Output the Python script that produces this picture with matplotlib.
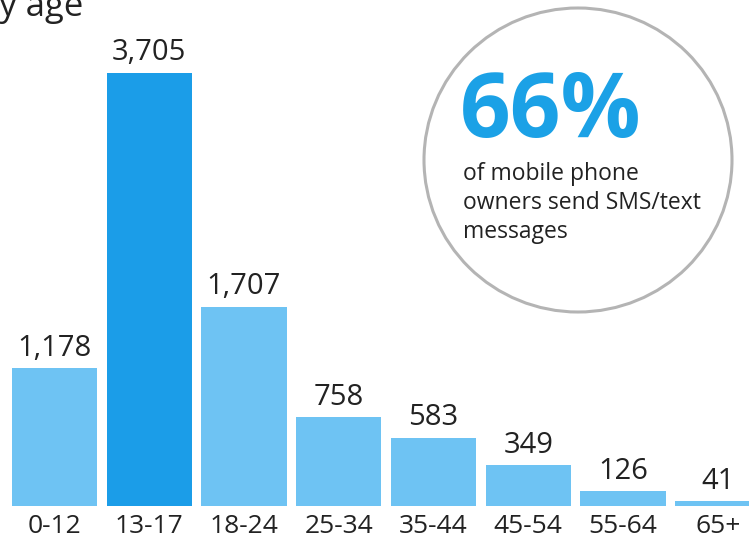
import matplotlib.pyplot as plt
from matplotlib.patches import Ellipse

plt.rcParams['font.family'] = ['Open Sans', 'DejaVu Sans']

age_groups = ['0-12', '13-17', '18-24', '25-34', '35-44', '45-54', '55-64', '65+']
texts_per_month = [1178, 3705, 1707, 758, 583, 349, 126, 41]
highlight = '13-17'
callout_lines = ['of mobile phone', 'owners send SMS/text', 'messages']

light_blue = '#6ec3f3'
dark_blue = '#1b9de8'
text_color = '#222222'

W, H = 749, 547
fig = plt.figure(figsize=(W / 100, H / 100), dpi=100)

# axes spans the whole width so the last bar runs off the right edge
ax = fig.add_axes([0, 41 / H, 1, 506 / H])
colors = [dark_blue if g == highlight else light_blue for g in age_groups]
x = range(len(age_groups))
bars = ax.bar(x, texts_per_month, width=0.9, color=colors)
ax.set_xlim(-0.575, 7.33)
ax.set_ylim(0, 4330)

for rect, v in zip(bars, texts_per_month):
    ax.annotate(f'{v:,}', (rect.get_x() + rect.get_width() / 2, v),
                xytext=(0, 4), textcoords='offset points',
                ha='center', va='bottom', fontsize=21, color=text_color)

ax.set_xticks(list(x))
ax.set_xticklabels(age_groups, fontsize=19, color=text_color)
ax.tick_params(axis='x', length=0, pad=6)
ax.set_yticks([])
for s in ax.spines.values():
    s.set_visible(False)

# heading runs off the top-left corner
fig.text(83 / W, 1 - 16 / H, 'by age', ha='right', va='baseline',
         fontsize=25, color=text_color)

# callout circle
circ = Ellipse((578 / W, 1 - 160 / H), 308 / W, 304 / H, transform=fig.transFigure,
               facecolor='white', edgecolor='#b4b4b4', linewidth=2.2, zorder=5)
fig.add_artist(circ)
fig.text(460 / W, 1 - 137 / H, '66%', ha='left', va='baseline',
         fontsize=64, fontweight='bold', color='#1ba1e6', zorder=6)
for i, line in enumerate(callout_lines):
    fig.text(463 / W, 1 - (180 + 29 * i) / H, line, ha='left', va='baseline',
             fontsize=16.5, color=text_color, zorder=6)

fig.savefig('out.png', dpi=100)
